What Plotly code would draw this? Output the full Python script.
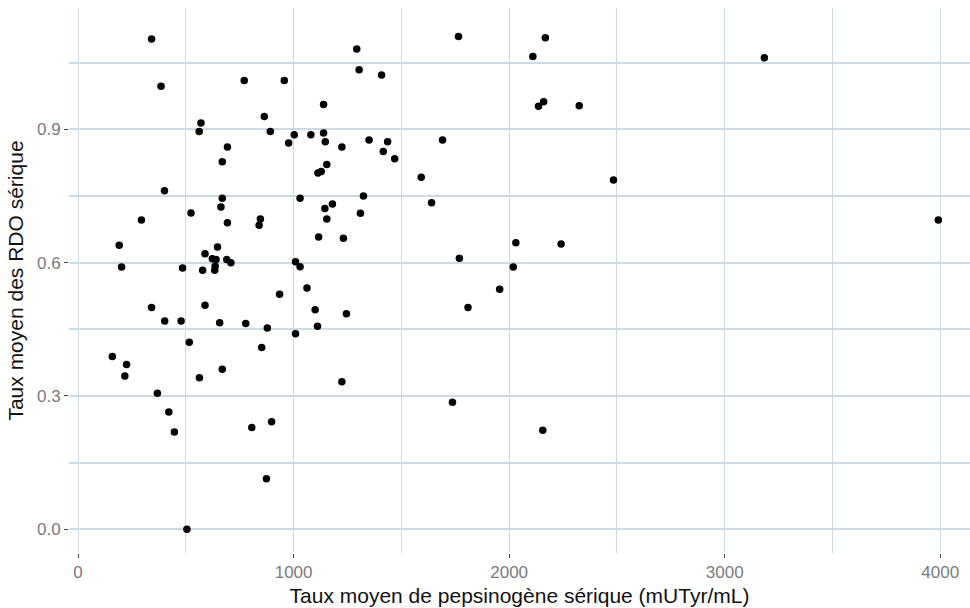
import plotly.graph_objects as go

pepsinogene = [
    341, 385, 771, 957, 864, 570, 562, 892, 1003, 1080, 977, 693, 669, 1113, 1128,
    401, 669, 663, 1030, 524, 294, 693, 846, 840, 1116, 191, 647, 589, 623, 640,
    636, 634, 690, 709, 202, 485, 578, 1009, 1030, 1062, 935, 1100, 589, 341, 402,
    478, 657, 778, 878, 1111, 1009, 516, 852, 159, 225, 217, 669, 563, 368, 421,
    447, 806, 898, 874, 505,
    1293, 1765, 1304, 1408, 1139, 1139, 1147, 1224, 1350, 1436, 1416, 1469, 1691,
    1154, 1592, 1324, 1145, 1180, 1154, 1310, 1640, 1231, 1769, 2031, 2019, 1956,
    1809, 1245, 1224, 1737,
    2168, 2110, 3184, 2136, 2160, 2325, 2484, 3991, 2241, 2156,
]
rdo = [
    1.103, 0.997, 1.010, 1.010, 0.929, 0.914, 0.895, 0.895, 0.888, 0.888, 0.869, 0.860, 0.827, 0.802, 0.805,
    0.762, 0.745, 0.725, 0.745, 0.712, 0.696, 0.690, 0.698, 0.684, 0.658, 0.639, 0.635, 0.620, 0.609, 0.607,
    0.592, 0.583, 0.607, 0.600, 0.590, 0.588, 0.583, 0.602, 0.591, 0.543, 0.529, 0.494, 0.504, 0.499, 0.469,
    0.469, 0.465, 0.463, 0.453, 0.457, 0.440, 0.421, 0.409, 0.389, 0.371, 0.345, 0.360, 0.341, 0.306, 0.264,
    0.219, 0.229, 0.242, 0.114, 0.000,
    1.081, 1.109, 1.034, 1.022, 0.956, 0.892, 0.872, 0.860, 0.876, 0.872, 0.850, 0.834, 0.876,
    0.821, 0.792, 0.750, 0.722, 0.732, 0.698, 0.711, 0.735, 0.655, 0.610, 0.645, 0.590, 0.540,
    0.499, 0.485, 0.332, 0.286,
    1.106, 1.064, 1.061, 0.952, 0.962, 0.953, 0.786, 0.696, 0.642, 0.223,
]

x_ticks = [0, 1000, 2000, 3000, 4000]
y_ticks = [0.0, 0.3, 0.6, 0.9]
y_tick_labels = ["0.0", "0.3", "0.6", "0.9"]

grid_color = "#cbdae7"
tick_font = dict(family="Liberation Sans, Arial, sans-serif", size=17, color="#7a7a80")
title_font = dict(family="Liberation Sans, Arial, sans-serif", size=21, color="#111111")

fig = go.Figure(
    go.Scatter(
        x=pepsinogene,
        y=rdo,
        mode="markers",
        marker=dict(color="black", size=7.5, line=dict(width=0)),
        showlegend=False,
    )
)

fig.update_layout(
    width=970,
    height=608,
    margin=dict(l=69, r=0, t=8, b=55),
    paper_bgcolor="white",
    plot_bgcolor="white",
    font=dict(family="Liberation Sans, Arial, sans-serif"),
    xaxis=dict(
        range=[-42, 4138],
        tickvals=x_ticks,
        ticktext=[str(v) for v in x_ticks],
        showgrid=True,
        gridcolor=grid_color,
        gridwidth=1.2,
        minor=dict(dtick=500, tick0=0, showgrid=True, gridcolor=grid_color, gridwidth=1.2),
        zeroline=False,
        showline=False,
        ticks="outside",
        ticklen=4,
        tickwidth=1,
        tickcolor="#444444",
        tickfont=tick_font,
        title=dict(text="Taux moyen de pepsinogène sérique (mUTyr/mL)", font=title_font, standoff=6),
    ),
    yaxis=dict(
        range=[-0.0533, 1.173],
        tickvals=y_ticks,
        ticktext=y_tick_labels,
        showgrid=True,
        gridcolor=grid_color,
        gridwidth=1.5,
        minor=dict(dtick=0.15, tick0=0, showgrid=True, gridcolor=grid_color, gridwidth=1.5),
        zeroline=False,
        showline=False,
        ticks="outside",
        ticklen=4,
        tickwidth=1,
        tickcolor="#444444",
        tickfont=tick_font,
        title=dict(text="Taux moyen des RDO sérique", font=title_font, standoff=7),
    ),
)

fig.write_html("out.html")
